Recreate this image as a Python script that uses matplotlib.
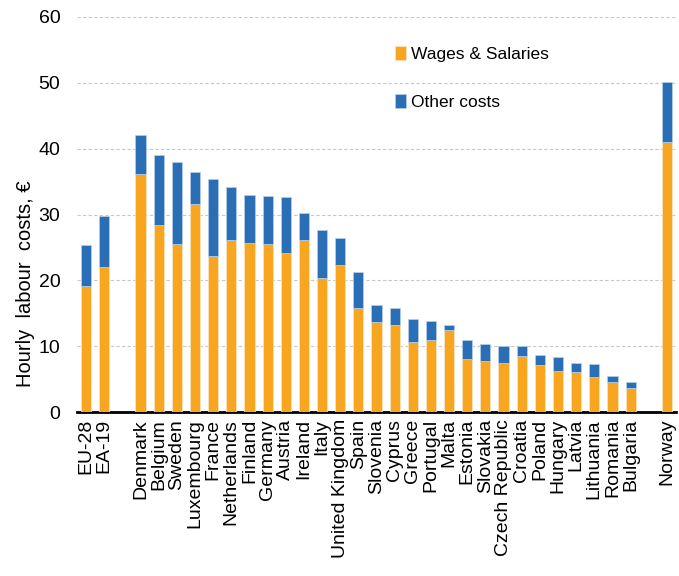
import numpy as np
import matplotlib.pyplot as plt

plt.rcParams['font.family'] = ['Liberation Sans', 'DejaVu Sans']

# Hourly labour costs by country, euro (empty names are spacer slots)
countries = ['EU-28', 'EA-19', '',
             'Denmark', 'Belgium', 'Sweden', 'Luxembourg', 'France', 'Netherlands',
             'Finland', 'Germany', 'Austria', 'Ireland', 'Italy', 'United Kingdom',
             'Spain', 'Slovenia', 'Cyprus', 'Greece', 'Portugal', 'Malta', 'Estonia',
             'Slovakia', 'Czech Republic', 'Croatia', 'Poland', 'Hungary', 'Latvia',
             'Lithuania', 'Romania', 'Bulgaria', '', 'Norway']
wages = [19.2, 22.1, 0,
         36.1, 28.4, 25.5, 31.6, 23.7, 26.1, 25.7, 25.5, 24.1, 26.1, 20.3, 22.3,
         15.8, 13.6, 13.2, 10.7, 10.9, 12.4, 8.1, 7.7, 7.5, 8.5, 7.1, 6.3, 6.1,
         5.3, 4.5, 3.6, 0, 41.0]
total = [25.3, 29.8, 0,
         42.0, 39.1, 37.9, 36.5, 35.4, 34.2, 33.0, 32.8, 32.6, 30.2, 27.7, 26.5,
         21.3, 16.2, 15.8, 14.2, 13.8, 13.2, 10.9, 10.3, 10.1, 10.1, 8.7, 8.3, 7.5,
         7.3, 5.5, 4.5, 0, 50.1]
other = [t - w for t, w in zip(total, wages)]

orange = '#F8A51F'
blue = '#2A6FB6'

x = np.arange(len(countries))

fig = plt.figure(figsize=(6.79, 5.76), dpi=100)
ax = fig.add_axes([0.1134, 0.2847, 0.8822, 0.6858])

ax.bar(x, wages, width=0.56, color=orange, edgecolor='#f6e7c8', linewidth=0.5,
       label='Wages & Salaries', zorder=3)
ax.bar(x, other, width=0.56, bottom=wages, color=blue, edgecolor='#b9d0ea',
       linewidth=0.5, label='Other costs', zorder=3)

ax.set_xlim(-0.5, len(countries) - 0.5)
ax.set_ylim(0, 60)
ax.set_yticks(range(0, 61, 10))
ax.yaxis.grid(True, linestyle=(0, (3, 2)), color='#c8c8c8', linewidth=0.8, zorder=0)

ax.set_xticks(x)
ax.set_xticklabels(countries, rotation=90, fontsize=14)
ax.tick_params(axis='x', length=0, pad=5)
ax.tick_params(axis='y', length=0, labelsize=14, pad=12)

for s in ['top', 'right', 'left']:
    ax.spines[s].set_visible(False)
ax.spines['bottom'].set_linewidth(2)
ax.spines['bottom'].set_color('black')

ax.set_ylabel('Hourly  labour  costs, €', fontsize=14.5)
ax.yaxis.set_label_coords(-0.07, 0.325)

ax.legend(loc='upper left', bbox_to_anchor=(0.505, 0.965), frameon=False,
          fontsize=12.5, handlelength=0.6, handleheight=0.8, handletextpad=0.3,
          labelspacing=1.85)

plt.savefig('out.png', dpi=100)
